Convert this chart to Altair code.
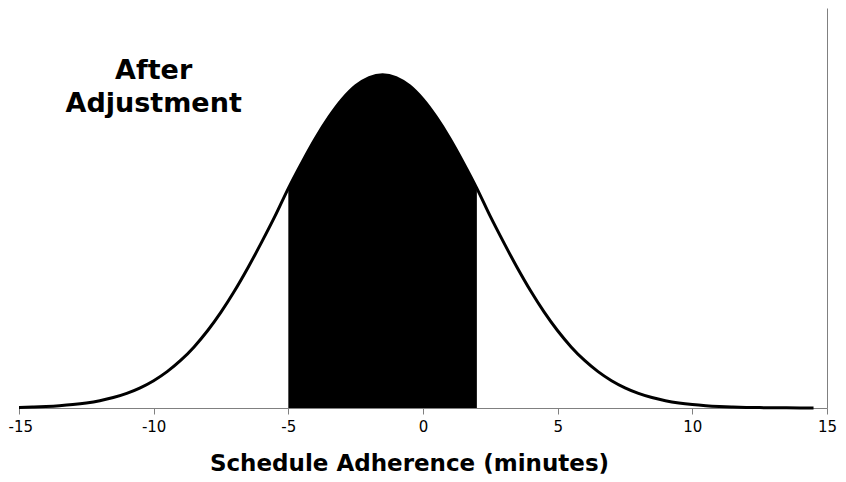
import altair as alt
import pandas as pd

# Curve (minutes, relative height)
xs = [-15, -14.5, -14, -13.5, -13, -12.5, -12, -11.5, -11, -10.5, -10, -9.5, -9, -8.5,
      -8, -7.5, -7, -6.5, -6, -5.5, -5, -4.5, -4, -3.5, -3, -2.5, -2, -1.5, -1, -0.5,
      0, 0.5, 1, 1.5, 2, 2.5, 3, 3.5, 4, 4.5, 5, 5.5, 6, 6.5, 7, 7.5, 8, 8.5, 9, 9.5,
      10, 10.5, 11, 11.5, 12, 12.5, 13, 13.5, 14, 14.5]
ys = [0.00019, 0.0003, 0.00047, 0.00072, 0.00108, 0.00159, 0.00231, 0.00329, 0.00461,
      0.00636, 0.0086, 0.01145, 0.01497, 0.01925, 0.02432, 0.03019, 0.03684, 0.04418,
      0.05208, 0.06034, 0.0692, 0.07730, 0.08490, 0.09160, 0.09725, 0.10150, 0.1041,
      0.105, 0.1041, 0.10150, 0.09725, 0.09160, 0.08490, 0.07730, 0.0692, 0.06034,
      0.05208, 0.04418, 0.03684, 0.03019, 0.02432, 0.01925, 0.01497, 0.01145, 0.0086,
      0.00636, 0.00461, 0.00329, 0.00231, 0.00159, 0.00108, 0.00072, 0.00047, 0.0003,
      0.00019, 0.00012, 0.00007, 0.00004, 0.00002, 0.00001]

shade_from = -5
shade_to = 2

label_lines = ["After", "Adjustment"]
label_x = [-10.0, -10.0]
label_y = [0.1062, 0.0958]

tick_values = [-15, -10, -5, 0, 5, 10, 15]

df = pd.DataFrame({"x": xs, "y": ys})
shade = df[(df["x"] >= shade_from) & (df["x"] <= shade_to)]
labels = pd.DataFrame({"t": label_lines, "x": label_x, "y": label_y})

FONT = "DejaVu Sans"
GRAY = "#808080"

xscale = alt.Scale(domain=[-15, 15], nice=False, zero=False)
yscale = alt.Scale(domain=[0, 0.126], nice=False)

first = "datum.value == -15"
xaxis = alt.Axis(values=tick_values, title="Schedule Adherence (minutes)",
                 domainColor=GRAY, tickColor=GRAY, tickSize=6, grid=False,
                 labelExpr="toString(datum.value)",
                 labelAlign={"condition": {"test": first, "value": "left"}, "value": "center"},
                 labelOffset={"condition": {"test": first, "value": -11}, "value": 0},
                 labelFont=FONT, labelFontSize=15, labelColor="black", labelPadding=5,
                 titleFont=FONT, titleFontSize=23, titleFontWeight="bold",
                 titleColor="black", titlePadding=18, titleX=390, titleAlign="center",
                 labelFlush=False)
yaxis = alt.Axis(orient="right", labels=False, ticks=False, grid=False, title=None,
                 domainColor=GRAY)

area = alt.Chart(shade).mark_area(color="black", opacity=1, interpolate="monotone").encode(
    x=alt.X("x:Q", scale=xscale, axis=xaxis),
    y=alt.Y("y:Q", scale=yscale, axis=yaxis),
)
line = alt.Chart(df).mark_line(color="black", strokeWidth=3, interpolate="monotone").encode(
    x=alt.X("x:Q", scale=xscale),
    y=alt.Y("y:Q", scale=yscale),
)
text = alt.Chart(labels).mark_text(font=FONT, fontSize=27, fontWeight="bold",
                                   align="center", baseline="middle", color="black").encode(
    x=alt.X("x:Q", scale=xscale),
    y=alt.Y("y:Q", scale=yscale),
    text="t:N",
)

chart = alt.layer(area, line, text).properties(
    width=808, height=400,
    autosize=alt.AutoSizeParams(type="none"),
    padding={"left": 11, "top": 0, "right": 11, "bottom": 66},
).configure_view(stroke=None)

chart.save("out.html", embed_options={"renderer": "svg", "actions": False})
